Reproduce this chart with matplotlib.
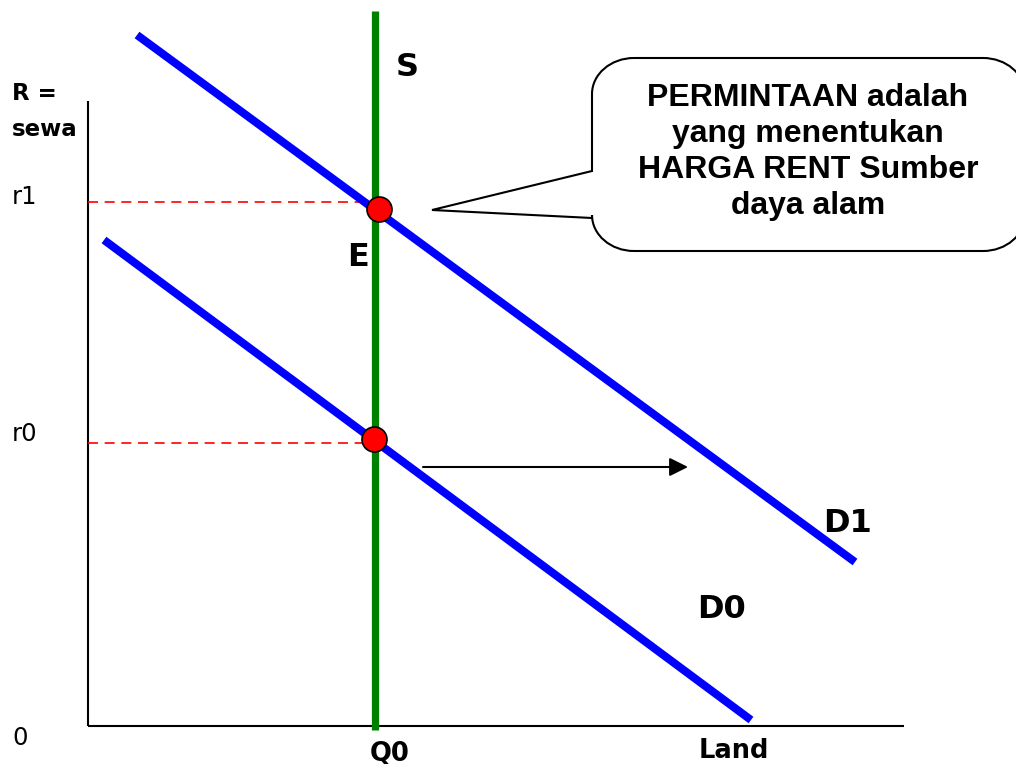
import matplotlib
matplotlib.use("Agg")
import matplotlib.pyplot as plt
from matplotlib.path import Path
from matplotlib.patches import PathPatch
import numpy as np

# data units: 1 unit = 100 px, origin at the axis corner
supply_q = 2.875
supply_r = [-0.04, 7.15]
d1_q = [0.49, 7.67]
d1_r = [6.91, 1.64]
d0_q = [0.16, 6.63]
d0_r = [4.86, 0.06]
r1_level, r0_level = 5.24, 2.83
r1_dash_end, r0_dash_end = 2.77, 2.74
eq_q = [2.91, 2.86]
eq_r = [5.17, 2.87]
shift_from, shift_to, shift_r = 3.35, 6.00, 2.59
x_axis_end, y_axis_end = 8.16, 6.25

callout_text = "PERMINTAAN adalah\nyang menentukan\nHARGA RENT Sumber\ndaya alam"

fig = plt.figure(figsize=(10.16, 7.64), dpi=100)
ax = fig.add_axes([0, 0, 1, 1])
ax.set_xlim(-0.88, 9.28)
ax.set_ylim(-0.38, 7.26)
ax.axis("off")

# axes
ax.plot([0, 0], [0, y_axis_end], color="black", lw=1.5, solid_capstyle="butt")
ax.plot([0, x_axis_end], [0, 0], color="black", lw=1.5, solid_capstyle="butt")

# dashed guides
ax.plot([0, r1_dash_end], [r1_level, r1_level], color="red", lw=1.2, dashes=(6, 4))
ax.plot([0, r0_dash_end], [r0_level, r0_level], color="red", lw=1.2, dashes=(6, 4))

# supply and demand
ax.plot([supply_q, supply_q], supply_r, color="#008000", lw=5.2, solid_capstyle="butt")
ax.plot(d1_q, d1_r, color="blue", lw=5.8, solid_capstyle="butt")
ax.plot(d0_q, d0_r, color="blue", lw=5.8, solid_capstyle="butt")

ax.plot(eq_q, eq_r, "o", color="red", markersize=18, markeredgecolor="black",
        markeredgewidth=1.2, zorder=5)

# shift arrow
ax.annotate("", xy=(shift_to, shift_r), xytext=(shift_from, shift_r),
            arrowprops=dict(arrowstyle="-|>", color="black", lw=1.5,
                            mutation_scale=28, shrinkA=0, shrinkB=0))

# callout bubble
L, R, B, T = 5.04, 9.37, 4.75, 6.68
rx, ry = 0.42, 0.36
tip = (3.44, 5.16)
wedge_top, wedge_bot = 5.55, 5.08
k = 0.5523
verts = [
    (L + rx, T), (R - rx, T),
    (R - rx + k * rx, T), (R, T - ry + k * ry), (R, T - ry),
    (R, B + ry),
    (R, B + ry - k * ry), (R - rx + k * rx, B), (R - rx, B),
    (L + rx, B),
    (L + rx - k * rx, B), (L, B + ry - k * ry), (L, B + ry),
    (L, wedge_bot), tip, (L, wedge_top),
    (L, T - ry),
    (L, T - ry + k * ry), (L + rx - k * rx, T), (L + rx, T),
]
codes = [Path.MOVETO, Path.LINETO,
         Path.CURVE4, Path.CURVE4, Path.CURVE4,
         Path.LINETO,
         Path.CURVE4, Path.CURVE4, Path.CURVE4,
         Path.LINETO,
         Path.CURVE4, Path.CURVE4, Path.CURVE4,
         Path.LINETO, Path.LINETO, Path.LINETO,
         Path.LINETO,
         Path.CURVE4, Path.CURVE4, Path.CURVE4]
ax.add_patch(PathPatch(Path(verts, codes), facecolor="white", edgecolor="black",
                       lw=1.5, zorder=4, clip_on=False))
ax.text(7.20, 5.74, callout_text, ha="center", va="center", fontsize=23,
        fontweight="bold", family="Liberation Sans", linespacing=1.27, zorder=6)

# labels
ax.text(-0.76, 6.33, "R =", ha="left", va="center", fontsize=16.5, fontweight="bold")
ax.text(-0.76, 5.97, "sewa", ha="left", va="center", fontsize=16.5, fontweight="bold")
ax.text(-0.76, 5.29, "r1", ha="left", va="center", fontsize=17.5)
ax.text(-0.76, 2.92, "r0", ha="left", va="center", fontsize=17.5)
ax.text(-0.76, -0.12, "0", ha="left", va="center", fontsize=17.5)
ax.text(3.02, -0.27, "Q0", ha="center", va="center", fontsize=18.5, fontweight="bold")
ax.text(6.46, -0.25, "Land", ha="center", va="center", fontsize=18.5, fontweight="bold")
ax.text(3.19, 6.58, "S", ha="center", va="center", fontsize=23, fontweight="bold")
ax.text(2.70, 4.68, "E", ha="center", va="center", fontsize=23, fontweight="bold")
ax.text(7.60, 2.02, "D1", ha="center", va="center", fontsize=23, fontweight="bold")
ax.text(6.34, 1.17, "D0", ha="center", va="center", fontsize=23, fontweight="bold")

fig.savefig("out.png", dpi=100)
